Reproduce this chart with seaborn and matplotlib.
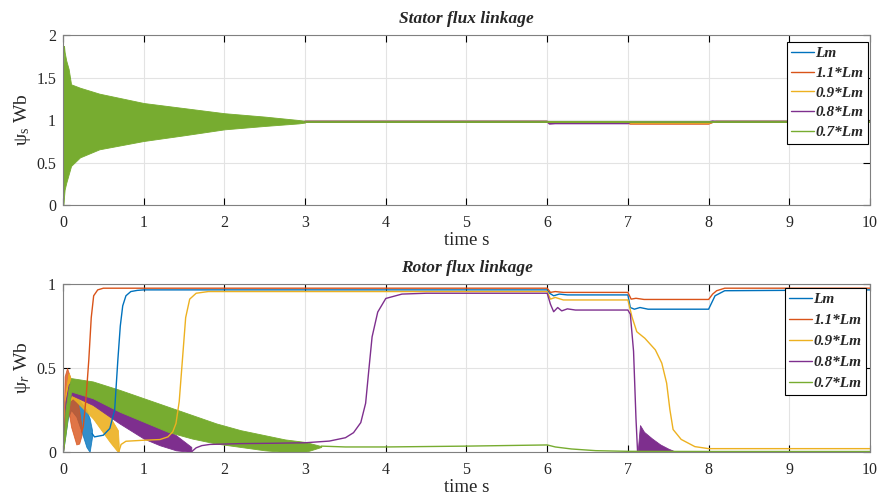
import numpy as np
import pandas as pd
import matplotlib
matplotlib.use("Agg")
import matplotlib.pyplot as plt
import seaborn as sns
from matplotlib.font_manager import FontProperties
from matplotlib.ticker import FuncFormatter

# ---------------- data ----------------
series_labels = ["Lm", "1.1*Lm", "0.9*Lm", "0.8*Lm", "0.7*Lm"]
series_colors = ["#0072BD", "#D95319", "#EDB120", "#7E2F8E", "#77AC30"]
x_ticks = [0, 1, 2, 3, 4, 5, 6, 7, 8, 9, 10]
stator_yticks = [0, 0.5, 1, 1.5, 2]
rotor_yticks = [0, 0.5, 1]

# Stator flux: oscillation envelope (all series overlap, 0.7*Lm on top)
stator_band_t = [0, 0.005, 0.013, 0.02, 0.04, 0.07, 0.1, 0.21, 0.45, 1.0, 1.5, 2.0, 2.5, 2.92, 3.0]
stator_band_hi = [0.0, 1.6, 1.87, 1.8, 1.7, 1.6, 1.42, 1.38, 1.31, 1.20, 1.14, 1.08, 1.04, 1.0, 0.99]
stator_band_lo = [0.0, 0.0, 0.1, 0.18, 0.26, 0.36, 0.46, 0.56, 0.655, 0.753, 0.82, 0.89, 0.93, 0.96, 0.97]

# Stator flux after the transient (t >= 3 s)
stator_t = [3.0, 6.0, 6.03, 6.1, 7.0, 7.03, 7.1, 8.0, 8.05, 8.1, 10.0]
stator_lm = [0.98, 0.98, 0.975, 0.975, 0.975, 0.965, 0.965, 0.965, 0.975, 0.98, 0.98]
stator_11 = [0.98, 0.98, 0.965, 0.965, 0.965, 0.955, 0.955, 0.955, 0.975, 0.98, 0.98]
stator_09 = [0.98, 0.98, 0.975, 0.975, 0.975, 0.965, 0.965, 0.965, 0.975, 0.98, 0.98]
stator_08 = [0.98, 0.98, 0.955, 0.96, 0.96, 0.975, 0.975, 0.975, 0.985, 0.98, 0.98]
stator_07 = [0.98, 0.98, 0.98, 0.98, 0.98, 0.98, 0.98, 0.98, 0.98, 0.98, 0.98]

# Rotor flux: oscillating bands (t, upper, lower) and smooth parts (t, value)
rotor_lm_band_t = [0.0, 0.03, 0.06, 0.1, 0.165, 0.23, 0.29, 0.33, 0.36]
rotor_lm_band_hi = [0.0, 0.3, 0.38, 0.40, 0.33, 0.29, 0.25, 0.2, 0.13]
rotor_lm_band_lo = [0.0, 0.1, 0.2, 0.25, 0.21, 0.12, 0.03, 0.0, 0.09]
rotor_lm_t = [0.36, 0.39, 0.5, 0.58, 0.64, 0.66, 0.68, 0.71, 0.74, 0.78, 0.84, 0.92, 1.0,
              6.0, 6.03, 6.08, 6.15, 6.25, 7.0, 7.03, 7.08, 7.15, 7.25, 8.0, 8.08, 8.2, 10.0]
rotor_lm_v = [0.11, 0.09, 0.10, 0.14, 0.25, 0.4, 0.55, 0.75, 0.87, 0.93, 0.955, 0.962, 0.965,
              0.965, 0.945, 0.93, 0.94, 0.935, 0.935, 0.86, 0.85, 0.86, 0.85, 0.85, 0.93, 0.96, 0.965]

rotor_11_band_t = [0.0, 0.02, 0.05, 0.1, 0.165, 0.2, 0.23]
rotor_11_band_hi = [0.0, 0.45, 0.5, 0.43, 0.35, 0.25, 0.15]
rotor_11_band_lo = [0.0, 0.2, 0.3, 0.15, 0.045, 0.05, 0.1]
rotor_11_t = [0.23, 0.25, 0.27, 0.29, 0.32, 0.35, 0.38, 0.43, 0.5,
              6.0, 6.04, 6.1, 6.2, 7.0, 7.04, 7.1, 7.2, 8.0, 8.05, 8.1, 8.2, 10.0]
rotor_11_v = [0.12, 0.15, 0.24, 0.35, 0.55, 0.8, 0.93, 0.965, 0.975,
              0.975, 0.95, 0.955, 0.95, 0.95, 0.91, 0.915, 0.908, 0.908, 0.94, 0.96, 0.975, 0.975]

rotor_09_band_t = [0.0, 0.03, 0.07, 0.12, 0.165, 0.37, 0.58, 0.68, 0.69]
rotor_09_band_hi = [0.0, 0.35, 0.47, 0.40, 0.36, 0.32, 0.21, 0.13, 0.05]
rotor_09_band_lo = [0.0, 0.15, 0.3, 0.32, 0.30, 0.20, 0.06, 0.0, 0.0]
rotor_09_t = [0.69, 0.72, 0.78, 1.0, 1.2, 1.3, 1.36, 1.4, 1.44, 1.48, 1.52, 1.57, 1.65, 1.8,
              6.0, 6.04, 6.1, 6.2, 7.0, 7.05, 7.11, 7.21, 7.34, 7.42, 7.48, 7.52, 7.56,
              7.66, 7.83, 8.0, 10.0]
rotor_09_v = [0.0, 0.045, 0.064, 0.07, 0.074, 0.09, 0.12, 0.17, 0.3, 0.55, 0.8, 0.91, 0.945, 0.955,
              0.955, 0.91, 0.92, 0.905, 0.905, 0.805, 0.716, 0.677, 0.608, 0.529, 0.41, 0.253,
              0.134, 0.075, 0.032, 0.02, 0.02]

rotor_08_band_t = [0.0, 0.03, 0.07, 0.1, 0.37, 0.7, 1.0, 1.2, 1.4, 1.59]
rotor_08_band_hi = [0.0, 0.3, 0.4, 0.42, 0.36, 0.28, 0.21, 0.16, 0.10, 0.03]
rotor_08_band_lo = [0.0, 0.15, 0.3, 0.34, 0.28, 0.17, 0.08, 0.04, 0.01, 0.0]
rotor_08_t = [1.59, 1.65, 1.72, 1.82, 2.2, 2.6, 3.0, 3.3, 3.5, 3.6, 3.69, 3.75, 3.79, 3.83, 3.9,
              4.0, 4.2, 4.5, 6.0, 6.04, 6.08, 6.13, 6.18, 6.25, 6.35, 7.0, 7.03, 7.07,
              7.1, 7.12]
rotor_08_v = [0.0, 0.025, 0.038, 0.045, 0.05, 0.052, 0.055, 0.065, 0.085, 0.115, 0.175, 0.29, 0.49,
              0.685, 0.833, 0.914, 0.94, 0.945, 0.945, 0.88, 0.835, 0.86, 0.84, 0.852,
              0.845, 0.845, 0.82, 0.6, 0.2, 0.0]
rotor_08_band2_t = [7.12, 7.15, 7.2, 7.3, 7.4, 7.5, 7.6]
rotor_08_band2_hi = [0.0, 0.16, 0.12, 0.08, 0.045, 0.02, 0.0]
rotor_08_band2_lo = [0.0, 0.0, 0.0, 0.0, 0.0, 0.0, 0.0]
rotor_08_tail_t = [7.6, 10.0]
rotor_08_tail_v = [0.002, 0.002]

rotor_07_band_t = [0.0, 0.03, 0.07, 0.1, 0.37, 0.7, 1.0, 1.3, 1.6, 1.9, 2.2, 2.5, 2.75, 3.0, 3.2]
rotor_07_band_hi = [0.0, 0.25, 0.38, 0.44, 0.42, 0.37, 0.32, 0.27, 0.22, 0.17, 0.13, 0.1,
                    0.075, 0.06, 0.035]
rotor_07_band_lo = [0.0, 0.1, 0.25, 0.36, 0.32, 0.24, 0.18, 0.12, 0.08, 0.05, 0.03, 0.01,
                    0.0, 0.0, 0.03]
rotor_07_t = [3.2, 3.5, 4.0, 5.0, 6.0, 6.1, 6.3, 6.6, 7.0, 8.0, 10.0]
rotor_07_v = [0.035, 0.03, 0.03, 0.035, 0.042, 0.03, 0.018, 0.008, 0.004, 0.003, 0.003]

# ---------------- style ----------------
sns.set_style("ticks")
serif = "Liberation Serif"
plt.rcParams["font.family"] = [serif, "DejaVu Serif"]
plt.rcParams["mathtext.fontset"] = "custom"
plt.rcParams["mathtext.rm"] = serif
plt.rcParams["mathtext.it"] = serif + ":italic"

fig = plt.figure(figsize=(8.78, 4.99), dpi=100)
ax1 = fig.add_axes([63 / 878, 1 - 205 / 499, 807 / 878, 170 / 499])
ax2 = fig.add_axes([63 / 878, 1 - 452 / 499, 807 / 878, 168 / 499])


def line(ax, t, v, color, label=None, lw=1.0):
    df = pd.DataFrame({"t": t, "v": v})
    sns.lineplot(data=df, x="t", y="v", color=color, lw=lw, ax=ax, sort=False,
                 estimator=None, label=label, legend=False)


def band(ax, t, hi, lo, color, alpha=1.0):
    ax.fill_between(t, lo, hi, color=color, lw=0.6, edgecolor=color, alpha=alpha)


# top panel
stator_series = [stator_lm, stator_11, stator_09, stator_08, stator_07]
for vals, col, lab in zip(stator_series, series_colors, series_labels):
    line(ax1, stator_t, vals, col, lab, lw=1.3)
band(ax1, stator_band_t, stator_band_hi, stator_band_lo, series_colors[4])

# bottom panel
rotor = [
    ([(rotor_lm_band_t, rotor_lm_band_hi, rotor_lm_band_lo)], [(rotor_lm_t, rotor_lm_v)]),
    ([(rotor_11_band_t, rotor_11_band_hi, rotor_11_band_lo)], [(rotor_11_t, rotor_11_v)]),
    ([(rotor_09_band_t, rotor_09_band_hi, rotor_09_band_lo)], [(rotor_09_t, rotor_09_v)]),
    ([(rotor_08_band_t, rotor_08_band_hi, rotor_08_band_lo),
      (rotor_08_band2_t, rotor_08_band2_hi, rotor_08_band2_lo)],
     [(rotor_08_t, rotor_08_v), (rotor_08_tail_t, rotor_08_tail_v)]),
    ([(rotor_07_band_t, rotor_07_band_hi, rotor_07_band_lo)], [(rotor_07_t, rotor_07_v)]),
]
band_alpha = [0.8, 0.8, 0.9, 1.0, 1.0]
for (bands, lines), col, lab, al in zip(rotor, series_colors, series_labels, band_alpha):
    for (bt, bh, bl) in bands:
        band(ax2, bt, bh, bl, col, al)
    for j, (lt, lv) in enumerate(lines):
        line(ax2, lt, lv, col, lab if j == 0 else None)

fmt = FuncFormatter(lambda v, p: f"{v:g}")
title_fp = FontProperties(family=serif, weight="bold", style="italic", size=12.5)
leg_fp = FontProperties(family=serif, weight="bold", style="italic", size=11)

for ax, yt, ylim, title, ylab, leg_x, leg_y, lspace in [
    (ax1, stator_yticks, (0, 2), "Stator flux linkage", "ψ$_{\\rm s}$ Wb", 0.9975, 0.96, 0.4),
    (ax2, rotor_yticks, (0, 1), "Rotor flux linkage", "ψ$_{r}$ Wb", 0.995, 0.975, 0.47),
]:
    ax.set_xlim(0, 10)
    ax.set_ylim(*ylim)
    ax.set_xticks(x_ticks)
    ax.set_yticks(yt)
    ax.xaxis.set_major_formatter(fmt)
    ax.yaxis.set_major_formatter(fmt)
    ax.grid(True, color="#e3e3e3", lw=0.8)
    ax.set_axisbelow(True)
    ax.tick_params(direction="in", top=True, right=True, length=5, width=0.8,
                   color="black", labelsize=11.5)
    ax.tick_params(axis="x", pad=7)
    ax.tick_params(axis="y", pad=5)
    for s in ax.spines.values():
        s.set_color("#808080")
        s.set_linewidth(0.8)
    ax.set_title(title, fontproperties=title_fp, pad=9)
    ax.set_xlabel("time s", fontsize=13.5, labelpad=1)
    ax.set_ylabel(ylab, fontsize=14, labelpad=2)
    leg = ax.legend(loc="upper right", bbox_to_anchor=(leg_x, leg_y), frameon=True,
                    fancybox=False, edgecolor="black", framealpha=1, prop=leg_fp,
                    handlelength=1.45, handletextpad=0.12, borderpad=0.3,
                    labelspacing=lspace, borderaxespad=0)
    leg.get_frame().set_linewidth(0.8)
    for h in leg.get_lines():
        h.set_linewidth(1.0)

fig.savefig("out.png", dpi=100)
